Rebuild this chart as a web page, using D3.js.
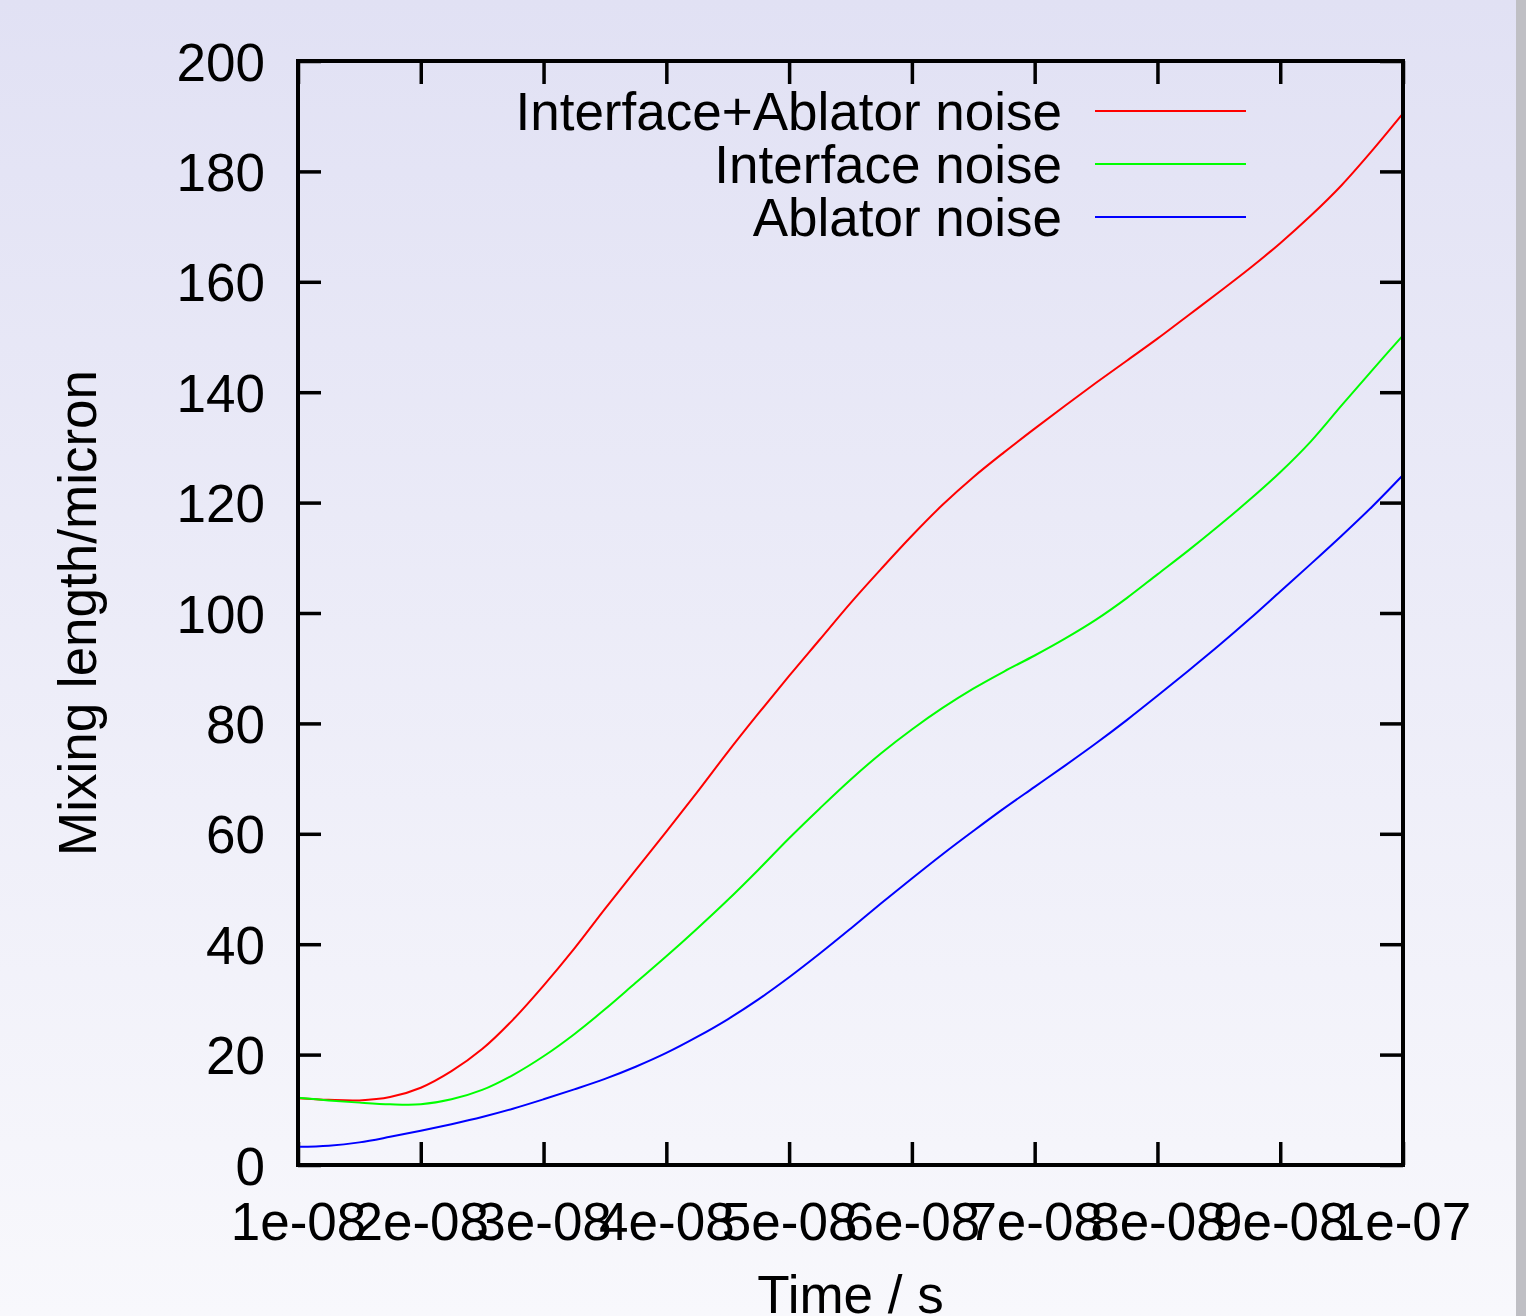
<!DOCTYPE html>
<html>
<head>
<meta charset="utf-8">
<script src="https://cdn.jsdelivr.net/npm/d3@7"></script>
<style>
  html, body { margin: 0; padding: 0; overflow: hidden; }
  svg { display: block; }
  text { font-family: "Liberation Sans", Arial, sans-serif; fill: #000; }
</style>
</head>
<body>
<svg id="chart" width="1526" height="1316"></svg>
<script>
// ---- data (time in units of 1e-8 s, mixing length in micron) ----
const timeSteps = [1.0,1.25,1.5,1.75,2.0,2.25,2.5,2.75,3.0,3.25,3.5,3.75,4.0,4.25,4.5,4.75,5.0,5.25,5.5,5.75,6.0,6.25,6.5,6.75,7.0,7.25,7.5,7.75,8.0,8.25,8.5,8.75,9.0,9.25,9.5,9.75,10.0];
const interfaceAblator = [12.1,11.8,11.7,12.3,14.0,17.0,21.0,26.3,32.5,39.2,46.4,53.4,60.4,67.5,74.8,81.8,88.6,95.2,101.8,108.0,114.0,119.6,124.6,129.1,133.4,137.6,141.7,145.7,149.7,153.9,158.1,162.4,167.0,172.0,177.5,183.8,190.5];
const interfaceOnly = [12.2,11.7,11.3,11.0,11.0,11.9,13.6,16.3,19.7,23.7,28.2,33.0,37.8,42.8,48.0,53.5,59.2,64.6,69.8,74.6,78.9,82.8,86.3,89.4,92.3,95.4,98.8,102.7,107.0,111.3,115.8,120.5,125.5,131.1,137.6,144.0,150.3];
const ablatorOnly = [3.3,3.5,4.1,5.1,6.2,7.4,8.7,10.2,11.9,13.7,15.6,17.8,20.3,23.2,26.4,30.0,34.0,38.3,42.8,47.4,51.9,56.3,60.5,64.6,68.5,72.4,76.4,80.6,85.0,89.5,94.1,98.9,103.9,108.9,114.0,119.3,125.0];
const seriesNames = ["Interface+Ablator noise","Interface noise","Ablator noise"];
const seriesColors = ["#ff0000","#00ff00","#0000ff"];
const xTickValues = [1e-8,2e-8,3e-8,4e-8,5e-8,6e-8,7e-8,8e-8,9e-8,1e-7];
const xTickLabels = ["1e-08","2e-08","3e-08","4e-08","5e-08","6e-08","7e-08","8e-08","9e-08","1e-07"];
const yTickValues = [0,20,40,60,80,100,120,140,160,180,200];
const xTitle = "Time / s";
const yTitle = "Mixing length/micron";

// ---- layout ----
const W = 1526, H = 1316;
const L = 298, R = 1403, T = 61, B = 1165;
const FS = 53;
const svg = d3.select("#chart");

const defs = svg.append("defs");
const grad = defs.append("linearGradient").attr("id","bg").attr("x1",0).attr("y1",0).attr("x2",0).attr("y2",1);
grad.append("stop").attr("offset","0%").attr("stop-color","#e1e1f4");
grad.append("stop").attr("offset","100%").attr("stop-color","#f8f8fc");
svg.append("rect").attr("width",W).attr("height",H).attr("fill","url(#bg)");
svg.append("rect").attr("x",1516).attr("y",0).attr("width",10).attr("height",H).attr("fill","#bfbfc4");

const x = d3.scaleLinear().domain([1e-8,1e-7]).range([L,R]);
const y = d3.scaleLinear().domain([0,200]).range([B,T]);
const tick = 23;

// axes (inward ticks, mirrored)
const fmtX = d => xTickLabels[xTickValues.findIndex(v => Math.abs(v-d) < 1e-12)];
const gB = svg.append("g").attr("transform",`translate(0,${B})`)
  .call(d3.axisBottom(x).tickValues(xTickValues).tickFormat(fmtX).tickSizeInner(-tick).tickSizeOuter(0).tickPadding(37));
const gT = svg.append("g").attr("transform",`translate(0,${T})`)
  .call(d3.axisTop(x).tickValues(xTickValues).tickFormat("").tickSizeInner(-tick).tickSizeOuter(0));
const gL = svg.append("g").attr("transform",`translate(${L},0)`)
  .call(d3.axisLeft(y).tickValues(yTickValues).tickFormat(d3.format("d")).tickSizeInner(-tick).tickSizeOuter(0).tickPadding(33));
const gR = svg.append("g").attr("transform",`translate(${R},0)`)
  .call(d3.axisRight(y).tickValues(yTickValues).tickFormat("").tickSizeInner(-tick).tickSizeOuter(0));
[gB,gT,gL,gR].forEach(g => {
  g.select(".domain").remove();
  g.selectAll(".tick line").attr("stroke","#000").attr("stroke-width",3.5);
  g.selectAll(".tick text").attr("font-size",FS).attr("font-family","Liberation Sans, Arial, sans-serif").attr("fill","#000");
});
gB.selectAll(".tick text").attr("dy","0.71em");
gL.selectAll(".tick text").attr("dy","0.36em");

// curves
const line = d3.line().x((d,i) => x(timeSteps[i]*1e-8)).y(d => y(d)).curve(d3.curveCatmullRom.alpha(0.5));
[interfaceAblator, interfaceOnly, ablatorOnly].forEach((s,k) => {
  svg.append("path").datum(s).attr("d", line).attr("fill","none")
    .attr("stroke", seriesColors[k]).attr("stroke-width",2);
});

// frame
svg.append("rect").attr("x",L).attr("y",T).attr("width",R-L).attr("height",B-T)
  .attr("fill","none").attr("stroke","#000").attr("stroke-width",4);

// legend
const legY = [111,164,217];
seriesNames.forEach((n,k) => {
  svg.append("text").attr("x",1062).attr("y",legY[k]).attr("dy","0.36em")
    .attr("text-anchor","end").attr("font-size",FS).text(n);
  svg.append("line").attr("x1",1095).attr("x2",1246).attr("y1",legY[k]).attr("y2",legY[k])
    .attr("stroke",seriesColors[k]).attr("stroke-width",2);
});

// titles
svg.append("text").attr("x",(L+R)/2).attr("y",1313).attr("text-anchor","middle").attr("font-size",FS).text(xTitle);
svg.append("text").attr("transform",`translate(96,${(T+B)/2}) rotate(-90)`).attr("text-anchor","middle").attr("font-size",FS).text(yTitle);
</script>
</body>
</html>
